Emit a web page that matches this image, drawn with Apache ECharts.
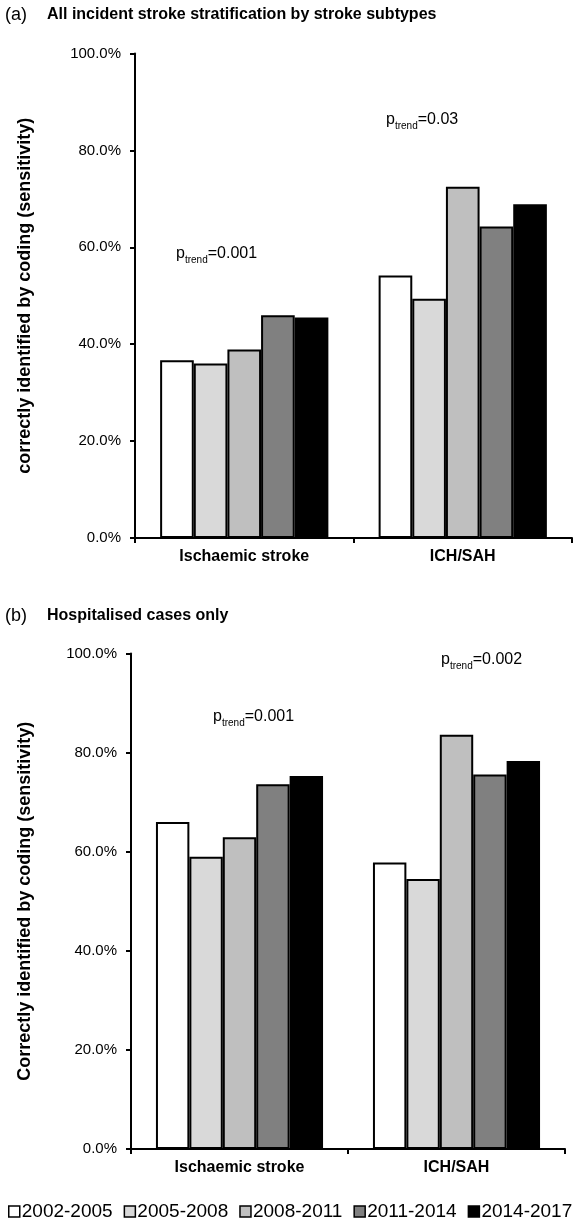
<!DOCTYPE html>
<html>
<head>
<meta charset="utf-8">
<script src="https://cdn.jsdelivr.net/npm/echarts@6/dist/echarts.min.js"></script>
<style>html,body{margin:0;padding:0;background:#fff}#c{width:581px;height:1223px}</style>
</head>
<body>
<div id="c"></div>
<script>
const categories = ['Ischaemic stroke', 'ICH/SAH'];
const periods = ['2002-2005', '2005-2008', '2008-2011', '2011-2014', '2014-2017'];
const colors = ['#ffffff', '#d9d9d9', '#bfbfbf', '#808080', '#000000'];
// panel (a): all incident stroke, per period [Ischaemic, ICH/SAH]
const allStroke = [
  [36.7, 54.2],
  [36.0, 49.4],
  [38.9, 72.5],
  [46.0, 64.3],
  [45.5, 68.9]
];
// panel (b): hospitalised cases only
const hospitalised = [
  [66.0, 57.8],
  [59.0, 54.5],
  [62.9, 83.6],
  [73.6, 75.6],
  [75.3, 78.3]
];
const yTicks = [0, 20, 40, 60, 80, 100];
const pTrendA = ['=0.001', '=0.03'];
const pTrendB = ['=0.001', '=0.002'];

const FONT = 'Liberation Sans, Arial, sans-serif';
const chart = echarts.init(document.getElementById('c'));

function yAx(gi, name, gap) {
  return {
    type: 'value', gridIndex: gi, min: yTicks[0], max: yTicks[yTicks.length - 1], interval: 20,
    name: name, nameLocation: 'middle', nameGap: gap, nameRotate: 90,
    nameTextStyle: {fontFamily: FONT, fontSize: 18, fontWeight: 'bold', color: '#000'},
    axisLine: {show: true, lineStyle: {color: '#000', width: 2}},
    axisTick: {show: true, length: 5, lineStyle: {color: '#000', width: 2}},
    axisLabel: {fontFamily: FONT, fontSize: 15, color: '#000', margin: 14,
      formatter: v => v.toFixed(1) + '%'},
    splitLine: {show: false}
  };
}
function xAx(gi) {
  return {
    type: 'category', gridIndex: gi, data: categories,
    axisLine: {show: true, lineStyle: {color: '#000', width: 2}},
    axisTick: {show: true, length: 5, alignWithLabel: false, lineStyle: {color: '#000', width: 2}},
    axisLabel: {fontFamily: FONT, fontSize: 16, fontWeight: 'bold', color: '#000', margin: 11}
  };
}
const series = [];
[allStroke, hospitalised].forEach((data, gi) => {
  periods.forEach((p, i) => {
    series.push({
      type: 'bar', name: p, xAxisIndex: gi, yAxisIndex: gi,
      data: data[i], barGap: '0%', barCategoryGap: '23%',
      itemStyle: {color: colors[i], borderColor: '#000', borderWidth: 2},
      emphasis: {disabled: true}
    });
  });
});

function ptrend(x, y, val) {
  return {
    type: 'text', left: x, top: y,
    style: {
      text: '{p|p}{s|trend}{n|' + val + '}',
      rich: {
        p: {fontFamily: FONT, fontSize: 16, color: '#000', lineHeight: 22, verticalAlign: 'middle'},
        s: {fontFamily: FONT, fontSize: 10, color: '#000', lineHeight: 22, verticalAlign: 'bottom'},
        n: {fontFamily: FONT, fontSize: 16, color: '#000', lineHeight: 22, verticalAlign: 'middle'}
      }
    }
  };
}

chart.setOption({
  animation: false,
  backgroundColor: '#fff',
  title: [
    {text: '(a)', left: 0, top: 1, textStyle: {fontFamily: FONT, fontSize: 18, fontWeight: 'normal', color: '#000'}},
    {text: 'All incident stroke stratification by stroke subtypes', left: 42, top: 2, textStyle: {fontFamily: FONT, fontSize: 16, fontWeight: 'bold', color: '#000'}},
    {text: '(b)', left: 0, top: 602, textStyle: {fontFamily: FONT, fontSize: 18, fontWeight: 'normal', color: '#000'}},
    {text: 'Hospitalised cases only', left: 42, top: 603, textStyle: {fontFamily: FONT, fontSize: 16, fontWeight: 'bold', color: '#000'}}
  ],
  grid: [
    {left: 135, right: 9, top: 53.5, height: 484.5},
    {left: 131, right: 16, top: 653.5, height: 495.5}
  ],
  xAxis: [xAx(0), xAx(1)],
  yAxis: [yAx(0, 'correctly identified by coding (sensitivity)', 101), yAx(1, 'Correctly identified by coding (sensitivity)', 97)],
  legend: {
    data: periods, left: 3, top: 1197, width: 578, icon: 'rect', itemWidth: 11, itemHeight: 11, itemGap: 11,
    textStyle: {fontFamily: FONT, fontSize: 19, color: '#000', padding: [0, 0, 0, -3]},
    itemStyle: {borderColor: '#000', borderWidth: 1.5},
    selectedMode: false
  },
  series: series,
  graphic: [
    ptrend(176, 246, pTrendA[0]),
    ptrend(386, 112, pTrendA[1]),
    ptrend(213, 709, pTrendB[0]),
    ptrend(441, 652, pTrendB[1])
  ]
});
</script>
</body>
</html>
